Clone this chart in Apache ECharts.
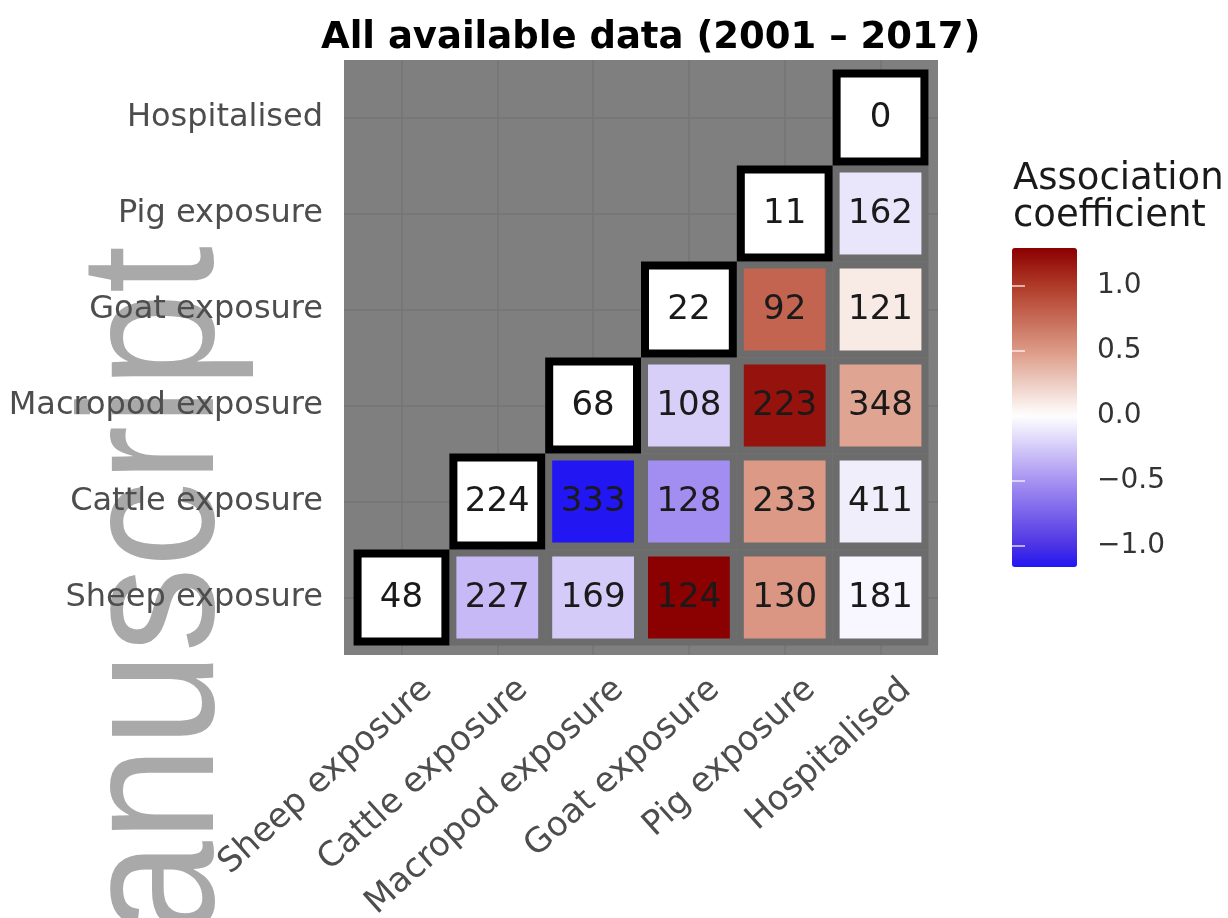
<!DOCTYPE html>
<html>
<head>
<meta charset="utf-8">
<script src="https://cdn.jsdelivr.net/npm/echarts@6/dist/echarts.min.js"></script>
<style>
  html, body { margin: 0; padding: 0; background: #fff; }
  #main { width: 1228px; height: 918px; }
</style>
</head>
<body>
<div id="main"></div>
<script>
// categories in plot order (index 0 at the left / bottom)
var categories = ['Sheep exposure', 'Cattle exposure', 'Macropod exposure', 'Goat exposure', 'Pig exposure', 'Hospitalised']
// counts on the diagonal
var diagCounts = [48, 224, 68, 22, 11, 0]
// off-diagonal cells: column, row, count, association coefficient
var pairX = [1, 2, 3, 4, 5, 2, 3, 4, 5, 3, 4, 5, 4, 5, 5]
var pairY = [0, 0, 0, 0, 0, 1, 1, 1, 1, 2, 2, 2, 3, 3, 4]
var pairCount = [227, 169, 124, 130, 181, 333, 128, 233, 411, 108, 223, 348, 92, 121, 162]
var pairCoef = [-0.32, -0.24, 1.29, 0.52, -0.04, -1.16, -0.52, 0.5, -0.08, -0.22, 1.2, 0.45, 0.78, 0.1, -0.12]
// colour bar tick labels
var legendTicks = [-1, -0.5, 0, 0.5, 1]

var font = '"DejaVu Sans", sans-serif'
var xLabelShift = 0.27

// blue - white - darkred ramp
var rampStops = [[-1.29, '#0000ff'], [-1.0, '#4b32e4'], [-0.5, '#a692f1'], [0, '#ffffff'],
  [0.5, '#dc9a86'], [1.0, '#b03a28'], [1.29, '#8b0000']]
function hexRgb (h) {
  return [parseInt(h.substr(1, 2), 16), parseInt(h.substr(3, 2), 16), parseInt(h.substr(5, 2), 16)]
}
function colorAt (v) {
  for (var i = 0; i < rampStops.length - 1; i++) {
    var a = rampStops[i], b = rampStops[i + 1]
    if (v <= b[0] || i === rampStops.length - 2) {
      var t = Math.max(0, Math.min(1, (v - a[0]) / (b[0] - a[0])))
      var ca = hexRgb(a[1]), cb = hexRgb(b[1])
      return 'rgb(' + ca.map(function (c, k) { return Math.round(c + (cb[k] - c) * t) }).join(',') + ')'
    }
  }
}
var coefMin = Math.min.apply(null, pairCoef)
var coefMax = Math.max.apply(null, pairCoef)
var rampColors = []
for (var i = 0; i <= 60; i++) {
  rampColors.push(colorAt(coefMin + (coefMax - coefMin) * i / 60))
}

var pairData = pairX.map(function (x, i) { return [x, pairY[i], pairCoef[i], pairCount[i]] })
var diagData = diagCounts.map(function (n, i) { return [i, i, n] })
var catIdx = categories.map(function (c, i) { return i })

function tileItem (params, api) {
  var c = api.coord([api.value(0), api.value(1)])
  var s = api.size([1, 1])
  var w = s[0] - 7
  var h = s[1] - 7
  return {
    type: 'group',
    children: [{
      type: 'rect',
      shape: { x: c[0] - w / 2, y: c[1] - h / 2, width: w, height: h },
      style: { fill: api.visual('color'), stroke: '#6c6c6c', lineWidth: 7 }
    }, {
      type: 'text',
      x: c[0],
      y: c[1] + 1,
      style: { text: String(api.value(3)), align: 'center', verticalAlign: 'middle', font: '34px ' + font, fill: '#1a1a1a' }
    }]
  }
}

function diagItem (params, api) {
  var c = api.coord([api.value(0), api.value(1)])
  var s = api.size([1, 1])
  var w = s[0] - 8
  var h = s[1] - 8
  return {
    type: 'group',
    children: [{
      type: 'rect',
      shape: { x: c[0] - w / 2, y: c[1] - h / 2, width: w, height: h },
      style: { fill: '#ffffff', stroke: '#000000', lineWidth: 8 }
    }, {
      type: 'text',
      x: c[0],
      y: c[1] + 1,
      style: { text: String(api.value(2)), align: 'center', verticalAlign: 'middle', font: '34px ' + font, fill: '#1a1a1a' }
    }]
  }
}

var myChart = echarts.init(document.getElementById('main'))
var option = {
  backgroundColor: '#ffffff',
  animation: false,
  title: [{
    text: 'All available data (2001 \u2013 2017)',
    left: 316,
    top: 15,
    textStyle: { fontFamily: font, fontSize: 37, fontWeight: 'bold', color: '#000' }
  }, {
    text: 'Association\ncoefficient',
    left: 1008,
    top: 156,
    textStyle: { fontFamily: font, fontSize: 37, fontWeight: 'normal', color: '#1a1a1a', lineHeight: 37 }
  }],
  grid: [{
    left: 344,
    top: 60,
    width: 594,
    height: 595,
    show: true,
    backgroundColor: '#7f7f7f',
    borderWidth: 0,
    outerBoundsMode: 'none'
  }, {
    left: 1012,
    top: 248,
    width: 65,
    height: 319,
    show: false,
    outerBoundsMode: 'none'
  }],
  xAxis: [{
    type: 'value',
    gridIndex: 0,
    min: -0.6,
    max: 5.6,
    axisLine: { show: false },
    axisTick: { show: false, customValues: catIdx },
    splitLine: { show: true, lineStyle: { color: '#747474', width: 1.5 } },
    axisLabel: {
      customValues: catIdx.map(function (i) { return i + xLabelShift }),
      rotate: 42,
      margin: 30,
      color: '#4d4d4d',
      fontFamily: font,
      fontSize: 34,
      formatter: function (v) { return categories[Math.round(v - xLabelShift)] }
    }
  }, {
    type: 'value',
    gridIndex: 1,
    show: false
  }],
  yAxis: [{
    type: 'value',
    gridIndex: 0,
    min: -0.6,
    max: 5.6,
    axisLine: { show: false },
    axisTick: { show: false, customValues: catIdx },
    splitLine: { show: true, lineStyle: { color: '#747474', width: 1.5 } },
    axisLabel: {
      customValues: catIdx,
      margin: 21,
      color: '#4d4d4d',
      fontFamily: font,
      fontSize: 32,
      formatter: function (v) { return categories[Math.round(v)] }
    }
  }, {
    type: 'value',
    gridIndex: 1,
    position: 'right',
    min: coefMin,
    max: coefMax,
    z: 10,
    axisLine: { show: false },
    splitLine: { show: false },
    axisTick: { show: true, inside: true, length: 13, customValues: legendTicks, lineStyle: { color: '#ffffff', width: 2, opacity: 0.6 } },
    axisLabel: {
      customValues: legendTicks,
      margin: 20,
      color: '#333333',
      fontFamily: font,
      fontSize: 28,
      formatter: function (v) { return v.toFixed(1).replace('-', '\u2212') }
    }
  }, {
    type: 'value',
    gridIndex: 1,
    position: 'left',
    min: coefMin,
    max: coefMax,
    z: 10,
    axisLine: { show: false },
    splitLine: { show: false },
    axisLabel: { show: false },
    axisTick: { show: true, inside: true, length: 13, customValues: legendTicks, lineStyle: { color: '#ffffff', width: 2, opacity: 0.6 } }
  }],
  visualMap: {
    type: 'continuous',
    seriesIndex: 0,
    dimension: 2,
    min: coefMin,
    max: coefMax,
    calculable: false,
    itemWidth: 65,
    itemHeight: 319,
    left: 997,
    top: 233,
    inRange: { color: rampColors }
  },
  graphic: [{
    type: 'text',
    x: 256,
    y: 246,
    rotation: Math.PI / 2,
    scaleY: 1.12,
    z: -10,
    silent: true,
    style: { text: 'manuscript', font: '170px "Liberation Sans", Arial, sans-serif', fill: '#a9a9a9', align: 'right', verticalAlign: 'bottom' }
  }],
  series: [{
    type: 'custom',
    xAxisIndex: 0,
    yAxisIndex: 0,
    renderItem: tileItem,
    encode: { x: 0, y: 1 },
    data: pairData
  }, {
    type: 'custom',
    xAxisIndex: 0,
    yAxisIndex: 0,
    renderItem: diagItem,
    encode: { x: 0, y: 1 },
    data: diagData
  }]
}
option && myChart.setOption(option)
</script>
</body>
</html>
